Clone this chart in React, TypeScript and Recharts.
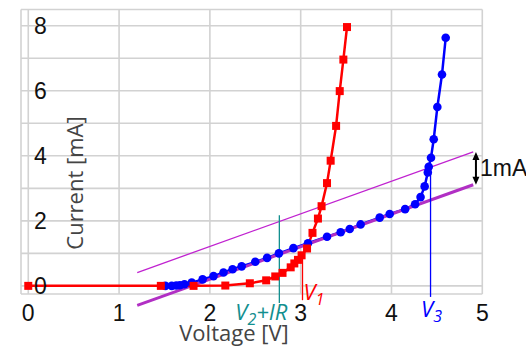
import React from "react";
import { LineChart, Line, XAxis, YAxis, CartesianGrid, ReferenceLine } from "recharts";

// red curve (squares)
const redVoltage = [0, 1.46, 1.82, 2.17, 2.44, 2.62, 2.72, 2.8, 2.89, 2.93, 2.97, 3.01, 3.07, 3.13, 3.19, 3.23, 3.29, 3.33, 3.39, 3.43, 3.47, 3.51];
const redCurrent = [0, 0, 0, 0.01, 0.08, 0.17, 0.29, 0.4, 0.57, 0.69, 0.8, 0.94, 1.15, 1.63, 2.07, 2.45, 3.16, 3.85, 4.92, 5.99, 6.96, 7.96];

// blue curve (circles)
const blueVoltage = [1.51, 1.58, 1.63, 1.67, 1.72, 1.8, 1.92, 2.04, 2.15, 2.25, 2.35, 2.5, 2.63, 2.76, 2.92, 3.08, 3.29, 3.44, 3.54, 3.66, 3.87, 3.98, 4.15, 4.26, 4.32, 4.365, 4.4, 4.41, 4.435, 4.465, 4.505, 4.556, 4.597];
const blueCurrent = [0, 0, 0.01, 0.02, 0.05, 0.1, 0.2, 0.3, 0.41, 0.51, 0.6, 0.74, 0.86, 1.0, 1.16, 1.31, 1.51, 1.65, 1.75, 1.89, 2.1, 2.21, 2.36, 2.51, 2.73, 3.06, 3.49, 3.66, 3.94, 4.51, 5.5, 6.5, 7.63];

// straight fit lines
const fitVoltage = [1.2, 4.9];
const fitCurrent = [-0.6, 3.11];
const fitShiftedCurrent = [0.41, 4.12];

// markers
const v1 = { x: 3.02, from: -0.44, to: 1.0 };
const v2 = { x: 2.765, from: -0.53, to: 2.17 };
const v3 = { x: 4.43, from: -0.34, to: 3.55 };
const gap = { x: 4.93, from: 3.11, to: 4.12 };

const xTicks = [0, 1, 2, 3, 4, 5];
const yTicks = [0, 1, 2, 3, 4, 5, 6, 7, 8];

const redData = redVoltage.map((v, k) => ({ v, i: redCurrent[k] }));
const blueData = blueVoltage.map((v, k) => ({ v, i: blueCurrent[k] }));

const tickFont = "'Liberation Sans', Arial, sans-serif";
const titleFont = "'Open Sans', 'Noto Sans', sans-serif";

const XTick = ({ x, y, payload }: any) => (
  <text x={x} y={y + 27} textAnchor="middle" fontSize={23} fontFamily={tickFont} fill="#111">
    {payload.value}
  </text>
);

const YTick = ({ x, y, payload }: any) =>
  payload.value % 2 !== 0 ? (
    <g />
  ) : (
    <text x={x + 13} y={y} dy="0.36em" textAnchor="start" fontSize={23} fontFamily={tickFont} fill="#111">
      {payload.value}
    </text>
  );

const Square = (props: any) => {
  const { cx, cy, index } = props;
  return <rect key={`sq-${index}`} x={cx - 4} y={cy - 4} width={8} height={8} fill="#ff0000" />;
};

const App: React.FC = () => {
  return (
    <div style={{ position: "absolute", left: 0, top: 0 }}>
      <LineChart width={526} height={347} margin={{ top: 9.5, right: 43.7, bottom: 0, left: 0 }}>
        <CartesianGrid stroke="#d2d2d2" strokeWidth={1.6} />
        <XAxis
          type="number"
          dataKey="v"
          domain={[-0.08, 5]}
          ticks={xTicks}
          allowDataOverflow
          height={53}
          axisLine={false}
          tickLine={false}
          tickSize={0}
          tickMargin={0}
          tick={XTick}
          label={{
            content: () => (
              <text x={234} y={341} textAnchor="middle" fontSize={22} fontFamily={titleFont} fill="#444">
                Voltage [V]
              </text>
            ),
          }}
        />
        <YAxis
          type="number"
          domain={[-0.25, 8.5]}
          ticks={yTicks}
          allowDataOverflow
          width={21}
          axisLine={false}
          tickLine={false}
          tickSize={0}
          tickMargin={0}
          tick={YTick}
          label={{
            content: () => (
              <text
                x={83}
                y={183}
                transform="rotate(-90 83 183)"
                textAnchor="middle"
                fontSize={22}
                fontFamily={titleFont}
                fill="#444"
              >
                Current [mA]
              </text>
            ),
          }}
        />
        <Line
          data={blueData}
          dataKey="i"
          stroke="#0000ff"
          strokeWidth={2.5}
          dot={{ r: 4.3, fill: "#0000ff", stroke: "none" }}
          activeDot={false}
          isAnimationActive={false}
        />
        <ReferenceLine
          segment={[
            { x: fitVoltage[0], y: fitCurrent[0] },
            { x: fitVoltage[1], y: fitCurrent[1] },
          ]}
          stroke="#b12fc4"
          strokeWidth={3}
          ifOverflow="visible"
        />
        <ReferenceLine
          segment={[
            { x: fitVoltage[0], y: fitShiftedCurrent[0] },
            { x: fitVoltage[1], y: fitShiftedCurrent[1] },
          ]}
          stroke="#c022d0"
          strokeWidth={1.3}
          ifOverflow="visible"
        />
        <ReferenceLine
          segment={[
            { x: v2.x, y: v2.from },
            { x: v2.x, y: v2.to },
          ]}
          ifOverflow="visible"
          shape={(p: any) => {
            const x = p.x1;
            const bottom = Math.max(p.y1, p.y2);
            return (
              <g>
                <line x1={p.x1} y1={p.y1} x2={p.x2} y2={p.y2} stroke="#138f8f" strokeWidth={1.3} />
                <text x={x + 8} y={bottom + 17} textAnchor="end" fontSize={22} fontFamily={titleFont} fontStyle="italic" fill="#138f8f">
                  V<tspan fontSize={16} dy={5}>2</tspan>
                  <tspan dy={-5}>+IR</tspan>
                </text>
              </g>
            );
          }}
        />
        <Line
          data={redData}
          dataKey="i"
          stroke="#ff0000"
          strokeWidth={2.5}
          dot={Square}
          activeDot={false}
          isAnimationActive={false}
        />
        <ReferenceLine
          segment={[
            { x: v1.x, y: v1.from },
            { x: v1.x, y: v1.to },
          ]}
          ifOverflow="visible"
          shape={(p: any) => {
            const x = p.x1;
            const bottom = Math.max(p.y1, p.y2);
            return (
              <g>
                <line x1={p.x1} y1={p.y1} x2={p.x2} y2={p.y2} stroke="#ff0000" strokeWidth={1.3} />
                <text x={x + 1} y={bottom} textAnchor="start" fontSize={22} fontFamily={titleFont} fontStyle="italic" fill="#ff0000">
                  V<tspan fontSize={16} dy={5}>1</tspan>
                </text>
              </g>
            );
          }}
        />
        <ReferenceLine
          segment={[
            { x: v3.x, y: v3.from },
            { x: v3.x, y: v3.to },
          ]}
          ifOverflow="visible"
          shape={(p: any) => {
            const x = p.x1;
            const bottom = Math.max(p.y1, p.y2);
            return (
              <g>
                <line x1={p.x1} y1={p.y1} x2={p.x2} y2={p.y2} stroke="#0000ff" strokeWidth={1.3} />
                <text x={x + 1} y={bottom + 20} textAnchor="middle" fontSize={22} fontFamily={titleFont} fontStyle="italic" fill="#0000ff">
                  V<tspan fontSize={16} dy={5}>3</tspan>
                </text>
              </g>
            );
          }}
        />
        <ReferenceLine
          segment={[
            { x: gap.x, y: gap.from },
            { x: gap.x, y: gap.to },
          ]}
          ifOverflow="visible"
          shape={(p: any) => {
            const x = p.x1;
            const top = Math.min(p.y1, p.y2);
            const bottom = Math.max(p.y1, p.y2);
            return (
              <g>
                <line x1={x} y1={top + 6} x2={x} y2={bottom - 6} stroke="#000" strokeWidth={2} />
                <polygon points={`${x - 3.5},${top + 8} ${x + 3.5},${top + 8} ${x},${top}`} fill="#000" />
                <polygon points={`${x - 3.5},${bottom - 8} ${x + 3.5},${bottom - 8} ${x},${bottom}`} fill="#000" />
                <text x={x + 4} y={(top + bottom) / 2 + 8} textAnchor="start" fontSize={23} fontFamily={tickFont} fill="#111">
                  1mA
                </text>
              </g>
            );
          }}
        />
      </LineChart>
    </div>
  );
};

export default App;
